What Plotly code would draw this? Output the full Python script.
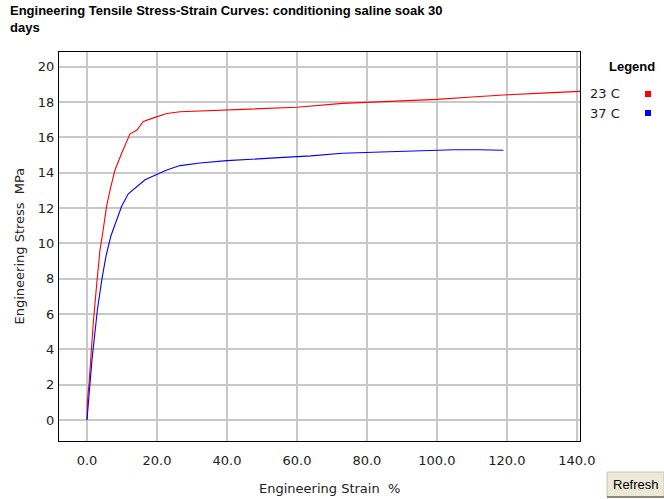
import plotly.graph_objects as go

# 23 C curve (strain %, stress MPa)
strain_23 = [0, 0.1, 0.6, 1.05, 1.8, 2.8, 3.7, 4.5, 5.6, 6.8, 8.0, 9.9, 12.3, 14.2,
             16.1, 19.0, 22.8, 26.6, 32.3, 38.9, 46.6, 60.0, 73.0, 82.0, 92.3, 100.0,
             110.0, 119.0, 130.0, 140.9]
stress_23 = [0, 1.0, 2.1, 3.4, 5.5, 7.75, 9.6, 10.6, 12.1, 13.2, 14.15, 15.1, 16.2, 16.4,
             16.9, 17.1, 17.35, 17.45, 17.5, 17.55, 17.6, 17.7, 17.92, 18.0, 18.05, 18.15,
             18.28, 18.4, 18.5, 18.6]

# 37 C curve
strain_37 = [0, 0.4, 0.86, 1.43, 2.1, 2.95, 4.2, 5.4, 6.8, 8.5, 9.9, 11.8, 14.2, 16.6,
             19.9, 22.8, 26.6, 32.3, 40.0, 46.6, 55.0, 64.0, 73.0, 84.0, 95.0, 105.0,
             112.0, 119.0]
stress_37 = [0, 1.13, 2.07, 3.4, 4.7, 6.2, 7.9, 9.25, 10.4, 11.3, 12.1, 12.8, 13.2, 13.6,
             13.9, 14.15, 14.4, 14.55, 14.68, 14.77, 14.85, 14.95, 15.1, 15.17, 15.25, 15.3,
             15.3, 15.27]

series_names = ["23 C", "37 C"]
series_colors = ["#ff0000", "#0000ff"]

x_ticks = [0, 20, 40, 60, 80, 100, 120, 140]
y_ticks = [0, 2, 4, 6, 8, 10, 12, 14, 16, 18, 20]

W, H = 664, 499
L, R, T, B = 59, 580, 52, 441  # plot area in pixels


def px(x):
    return (x - L) / (R - L)


def py(y):
    return (B - y) / (B - T)


FONT = "DejaVu Sans"
BOLD = "Liberation Sans"


def note(text, x, y, xa="center", ya="middle", size=13, family=FONT, color="#222", **kw):
    return dict(text=text, xref="paper", yref="paper", x=px(x), y=py(y),
                xanchor=xa, yanchor=ya, showarrow=False,
                font=dict(family=family, size=size, color=color), **kw)


fig = go.Figure()
for sx, sy, name, col in zip([strain_23, strain_37], [stress_23, stress_37],
                             series_names, series_colors):
    fig.add_trace(go.Scatter(x=sx, y=sy, mode="lines", name=name,
                             line=dict(color=col, width=1.1), showlegend=False))

annotations = [
    note("<b>Engineering Tensile Stress-Strain Curves: conditioning saline soak 30<br>days</b>",
         8, 1, xa="left", ya="top", size=13, family=BOLD, color="#000", align="left"),
    note("Engineering Stress  MPa", 19, (T + B) / 2, textangle=-90),
    note("Engineering Strain  %", 329, 488),
    note("<b>Legend</b>", 632, 66, family=BOLD, color="#000"),
    note("Refresh", 636, 484, family="Liberation Sans", color="#000"),
]
shapes = []
for i, (name, col) in enumerate(zip(series_names, series_colors)):
    yc = 94 + i * 19
    annotations.append(note(name, 588, yc, xa="left"))
    shapes.append(dict(type="rect", xref="paper", yref="paper", x0=px(645), x1=px(651),
                       y0=py(yc - 3), y1=py(yc + 3), fillcolor=col, line=dict(width=0)))

# Refresh button
shapes.append(dict(type="rect", xref="paper", yref="paper", x0=px(607), x1=px(664),
                   y0=py(472), y1=py(497), fillcolor="#ece9d8",
                   line=dict(color="#c8c4b4", width=1)))
shapes.append(dict(type="line", xref="paper", yref="paper", x0=px(607), x1=px(664),
                   y0=py(497), y1=py(497), line=dict(color="#8a8678", width=2)))

fig.update_layout(
    width=W, height=H,
    margin=dict(l=L, r=W - R, t=T, b=H - B),
    paper_bgcolor="white", plot_bgcolor="white",
    annotations=annotations, shapes=shapes,
    font=dict(family=FONT, size=13, color="#222"),
)
fig.update_xaxes(range=[-8, 140.9], tickvals=x_ticks, ticktext=[f"{v:.1f}" for v in x_ticks],
                 showgrid=True, gridcolor="#c8c8c8", gridwidth=1.5, zeroline=False,
                 showline=True, linecolor="black", linewidth=1, mirror=True,
                 ticks="outside", ticklen=7, tickcolor="rgba(0,0,0,0)")
fig.update_yaxes(range=[-1.19, 20.83], tickvals=y_ticks,
                 showgrid=True, gridcolor="#c8c8c8", gridwidth=1.5, zeroline=False,
                 showline=True, linecolor="black", linewidth=1, mirror=True,
                 ticks="outside", ticklen=1, tickcolor="rgba(0,0,0,0)")

# drop the default 8px page margin so the figure fills the window
fig.write_html("out.html", config={"displayModeBar": False},
               post_script="document.body.style.margin='0px';")
